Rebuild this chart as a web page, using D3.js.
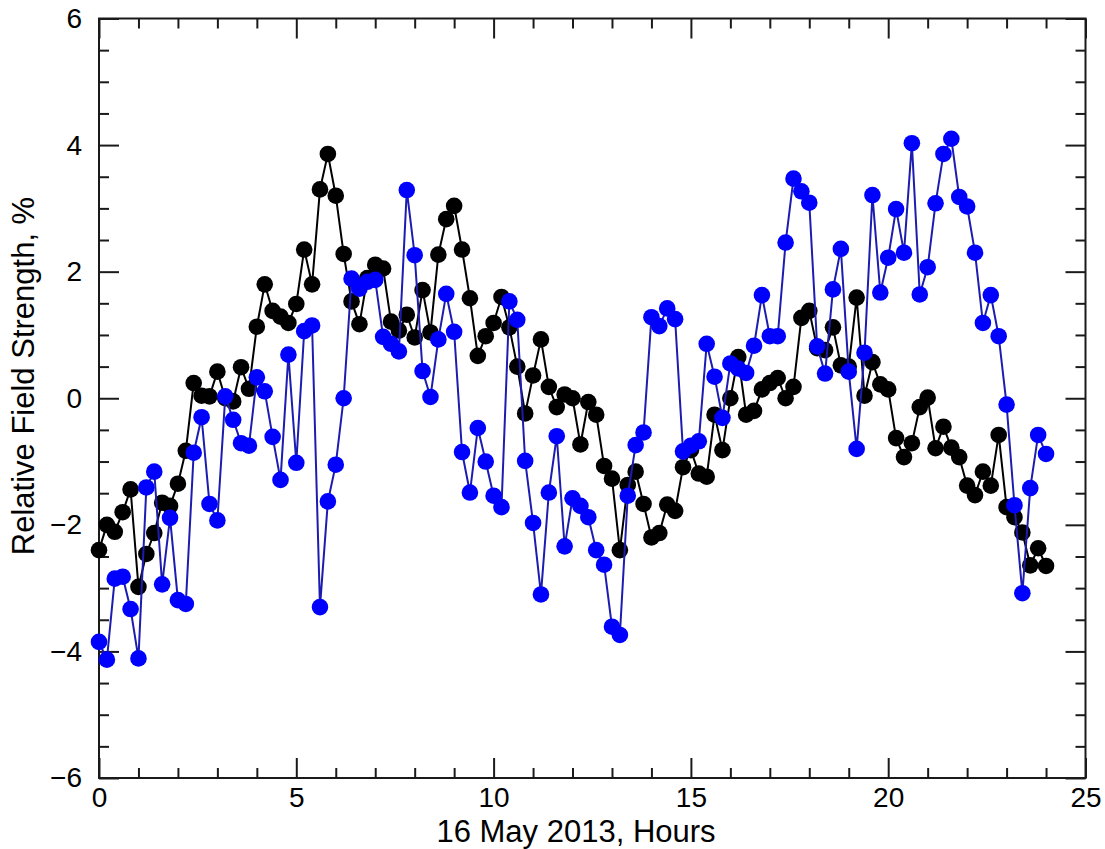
<!DOCTYPE html>
<html>
<head>
<meta charset="utf-8">
<script src="https://cdn.jsdelivr.net/npm/d3@7/dist/d3.min.js"></script>
<style>
  html, body { margin: 0; padding: 0; background: #ffffff; }
  svg { display: block; }
  text { font-family: "Liberation Sans", Arial, Helvetica, sans-serif; fill: #000; }
</style>
</head>
<body>
<svg id="chart" width="1105" height="849"></svg>
<script>
// Sample times (hours, 12-minute cadence) for 16 May 2013
const hours = [
  0.0, 0.2, 0.4, 0.6, 0.8, 1.0, 1.2, 1.4, 1.6, 1.8,
  2.0, 2.2, 2.4, 2.6, 2.8, 3.0, 3.2, 3.4, 3.6, 3.8,
  4.0, 4.2, 4.4, 4.6, 4.8, 5.0, 5.2, 5.4, 5.6, 5.8,
  6.0, 6.2, 6.4, 6.6, 6.8, 7.0, 7.2, 7.4, 7.6, 7.8,
  8.0, 8.2, 8.4, 8.6, 8.8, 9.0, 9.2, 9.4, 9.6, 9.8,
  10.0, 10.2, 10.4, 10.6, 10.8, 11.0, 11.2, 11.4, 11.6, 11.8,
  12.0, 12.2, 12.4, 12.6, 12.8, 13.0, 13.2, 13.4, 13.6, 13.8,
  14.0, 14.2, 14.4, 14.6, 14.8, 15.0, 15.2, 15.4, 15.6, 15.8,
  16.0, 16.2, 16.4, 16.6, 16.8, 17.0, 17.2, 17.4, 17.6, 17.8,
  18.0, 18.2, 18.4, 18.6, 18.8, 19.0, 19.2, 19.4, 19.6, 19.8,
  20.0, 20.2, 20.4, 20.6, 20.8, 21.0, 21.2, 21.4, 21.6, 21.8,
  22.0, 22.2, 22.4, 22.6, 22.8, 23.0, 23.2, 23.4, 23.6, 23.8,
  24.0
];

// Relative field strength (%), black station
const blackSeries = [
  -2.40, -2.00, -2.11, -1.80, -1.44, -2.98, -2.46, -2.13, -1.65, -1.70,
  -1.35, -0.83, 0.24, 0.04, 0.03, 0.42, 0.00, -0.05, 0.49, 0.15,
  1.13, 1.80, 1.38, 1.29, 1.19, 1.49, 2.35, 1.80, 3.30, 3.86,
  3.20, 2.28, 1.53, 1.17, 1.90, 2.11, 2.05, 1.21, 1.07, 1.32,
  0.96, 1.71, 1.04, 2.27, 2.83, 3.04, 2.35, 1.58, 0.67, 0.98,
  1.19, 1.60, 1.12, 0.50, -0.24, 0.36, 0.93, 0.18, -0.14, 0.06,
  0.00, -0.73, -0.06, -0.26, -1.07, -1.27, -2.40, -1.37, -1.16, -1.67,
  -2.20, -2.13, -1.68, -1.78, -1.09, -0.82, -1.19, -1.24, -0.26, -0.82,
  0.00, 0.65, -0.26, -0.20, 0.14, 0.24, 0.32, 0.00, 0.18, 1.27,
  1.38, 0.79, 0.76, 1.12, 0.52, 0.50, 1.59, 0.04, 0.57, 0.22,
  0.14, -0.63, -0.93, -0.71, -0.14, 0.01, -0.79, -0.45, -0.78, -0.93,
  -1.38, -1.53, -1.16, -1.38, -0.58, -1.72, -1.88, -2.12, -2.64, -2.37,
  -2.65
];

// Relative field strength (%), blue station
const blueSeries = [
  -3.85, -4.13, -2.85, -2.82, -3.33, -4.11, -1.41, -1.16, -2.94, -1.89,
  -3.19, -3.25, -0.86, -0.30, -1.67, -1.93, 0.03, -0.34, -0.71, -0.75,
  0.33, 0.11, -0.61, -1.29, 0.69, -1.02, 1.06, 1.15, -3.30, -1.63,
  -1.05, 0.00, 1.89, 1.73, 1.84, 1.87, 0.97, 0.86, 0.74, 3.29,
  2.26, 0.43, 0.02, 0.93, 1.65, 1.05, -0.85, -1.49, -0.47, -1.00,
  -1.54, -1.72, 1.53, 1.24, -0.99, -1.97, -3.10, -1.49, -0.60, -2.34,
  -1.58, -1.70, -1.88, -2.40, -2.63, -3.61, -3.74, -1.54, -0.74, -0.54,
  1.28, 1.14, 1.42, 1.25, -0.84, -0.75, -0.68, 0.86, 0.34, -0.31,
  0.55, 0.47, 0.40, 0.83, 1.63, 0.98, 0.98, 2.46, 3.47, 3.27,
  3.09, 0.82, 0.39, 1.72, 2.36, 0.42, -0.80, 0.72, 3.21, 1.67,
  2.22, 2.99, 2.30, 4.03, 1.64, 2.07, 3.08, 3.86, 4.10, 3.18,
  3.03, 2.30, 1.19, 1.63, 0.98, -0.10, -1.69, -3.08, -1.42, -0.58,
  -0.88
];

// Axis ticks and labels
const xMajorTicks = [0, 5, 10, 15, 20, 25];
const xMinorTicks = [1, 2, 3, 4, 6, 7, 8, 9, 11, 12, 13, 14, 16, 17, 18, 19, 21, 22, 23, 24];
const yMajorTicks = [-6, -4, -2, 0, 2, 4, 6];
const yMinorTicks = [-5.5, -5, -4.5, -3.5, -3, -2.5, -1.5, -1, -0.5, 0.5, 1, 1.5, 2.5, 3, 3.5, 4.5, 5, 5.5];
const xTitle = "16 May 2013, Hours";
const yTitle = "Relative Field Strength, %";

const plot = { left: 99, top: 18.5, right: 1085.5, bottom: 778 };

const svg = d3.select("#chart");

const x = d3.scaleLinear().domain([0, 25]).range([plot.left, plot.right]);
const y = d3.scaleLinear().domain([-6, 6]).range([plot.bottom, plot.top]);

const axisColor = "#1a1a1a";
const majorLen = 20, minorLen = 10;
const tickFont = 28, titleFont = 31;

function styleAxis(g) {
  g.select(".domain").remove();
  g.selectAll(".tick line").attr("stroke", axisColor).attr("stroke-width", 2);
}

// Bottom axis with labels
svg.append("g")
  .attr("transform", `translate(0,${plot.bottom})`)
  .call(d3.axisBottom(x).tickValues(xMajorTicks).tickSize(-majorLen).tickPadding(9).tickFormat(d3.format("d")))
  .call(styleAxis)
  .call(g => g.selectAll("text").attr("font-size", tickFont).attr("fill", "#000"));
svg.append("g")
  .attr("transform", `translate(0,${plot.bottom})`)
  .call(d3.axisBottom(x).tickValues(xMinorTicks).tickSize(-minorLen).tickFormat(""))
  .call(styleAxis);

// Top axis, ticks only
svg.append("g")
  .attr("transform", `translate(0,${plot.top})`)
  .call(d3.axisTop(x).tickValues(xMajorTicks).tickSize(-majorLen).tickFormat(""))
  .call(styleAxis);
svg.append("g")
  .attr("transform", `translate(0,${plot.top})`)
  .call(d3.axisTop(x).tickValues(xMinorTicks).tickSize(-minorLen).tickFormat(""))
  .call(styleAxis);

// Left axis with labels
svg.append("g")
  .attr("transform", `translate(${plot.left},0)`)
  .call(d3.axisLeft(y).tickValues(yMajorTicks).tickSize(-majorLen).tickPadding(17).tickFormat(d3.format("d")))
  .call(styleAxis)
  .call(g => g.selectAll("text").attr("font-size", tickFont).attr("fill", "#000"));
svg.append("g")
  .attr("transform", `translate(${plot.left},0)`)
  .call(d3.axisLeft(y).tickValues(yMinorTicks).tickSize(-minorLen).tickFormat(""))
  .call(styleAxis);

// Right axis, ticks only
svg.append("g")
  .attr("transform", `translate(${plot.right},0)`)
  .call(d3.axisRight(y).tickValues(yMajorTicks).tickSize(-majorLen).tickFormat(""))
  .call(styleAxis);
svg.append("g")
  .attr("transform", `translate(${plot.right},0)`)
  .call(d3.axisRight(y).tickValues(yMinorTicks).tickSize(-minorLen).tickFormat(""))
  .call(styleAxis);

// Plot frame
svg.append("rect")
  .attr("x", plot.left).attr("y", plot.top)
  .attr("width", plot.right - plot.left).attr("height", plot.bottom - plot.top)
  .attr("fill", "none").attr("stroke", axisColor).attr("stroke-width", 2);

// Axis titles
svg.append("text")
  .attr("x", 576).attr("y", 842)
  .attr("text-anchor", "middle")
  .attr("font-size", titleFont)
  .text(xTitle);
svg.append("text")
  .attr("transform", `translate(34,376) rotate(-90)`)
  .attr("text-anchor", "middle")
  .attr("font-size", titleFont)
  .text(yTitle);

// Data series: black first, blue drawn on top
const series = [
  { values: blackSeries, line: "#000000", fill: "#000000" },
  { values: blueSeries, line: "#1c1cb0", fill: "#0000ff" }
];

const lineGen = d3.line()
  .x((d, i) => x(hours[i]))
  .y(d => y(d));

series.forEach(s => {
  const g = svg.append("g");
  g.append("path")
    .datum(s.values)
    .attr("d", lineGen)
    .attr("fill", "none")
    .attr("stroke", s.line)
    .attr("stroke-width", 2);
  g.selectAll("circle")
    .data(s.values)
    .join("circle")
    .attr("cx", (d, i) => x(hours[i]))
    .attr("cy", d => y(d))
    .attr("r", 8.3)
    .attr("fill", s.fill);
});
</script>
</body>
</html>
